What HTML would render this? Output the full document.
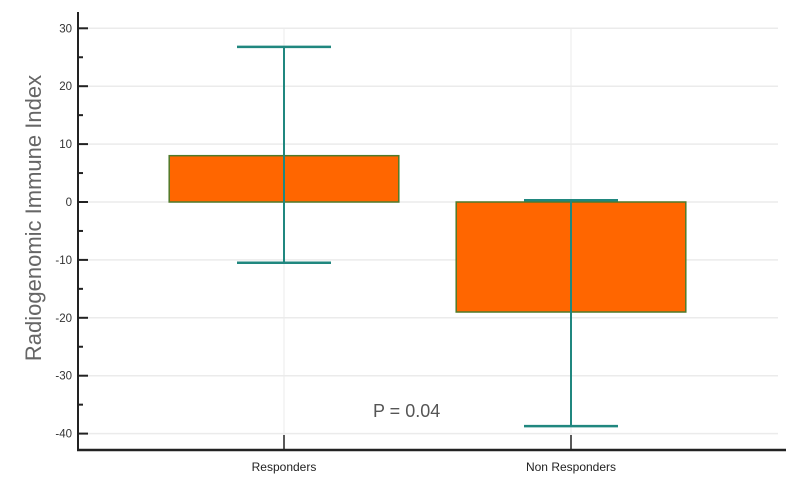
<!DOCTYPE html>
<html><head><meta charset="utf-8"><style>
body{margin:0;background:#fff;}
svg{display:block;font-family:"Liberation Sans",sans-serif;}
</style></head><body>
<svg width="786" height="487" id="chart"></svg>
<script>
const categories=["Responders","Non Responders"];
const boxLow=[0,-19];
const boxHigh=[8,0];
const whiskerLow=[-10.5,-38.7];
const whiskerHigh=[26.8,0.3];
const yTicks=[30,20,10,0,-10,-20,-30,-40];
const minorTicks=[25,15,5,-5,-15,-25,-35];
const pLabel="P = 0.04";

const NS="http://www.w3.org/2000/svg";
const svg=document.getElementById('chart');
const X0=78,X1=786,Y0=12,Y1=450;
function y(v){return 202-v*5.79;}
const bandStart=140.5,band=287;
function x(i){return bandStart+band*(i+0.5);}
function mk(t,a,p){const e=document.createElementNS(NS,t);for(const k in a)e.setAttribute(k,a[k]);(p||svg).appendChild(e);return e;}

// grid
yTicks.forEach(v=>{
 const g=mk('line',{x1:X0,x2:778,y1:y(v),y2:y(v),stroke:'#ebebeb','stroke-width':1.5});
 
 
});
categories.forEach((c,i)=>{
 const g=mk('line',{x1:x(i),x2:x(i),y1:28,y2:Y1,stroke:'#ebebeb','stroke-width':1});
 
 
});
// axes
const ya=mk('line',{x1:X0,x2:X0,y1:Y0,y2:Y1+1,stroke:'#222','stroke-width':2});


const xa=mk('line',{x1:X0-1,x2:X1,y1:Y1,y2:Y1,stroke:'#222','stroke-width':2.5});


yTicks.forEach(v=>{
 const t=mk('line',{x1:X0,x2:X0+10,y1:y(v),y2:y(v),stroke:'#222','stroke-width':2});
 
 
 const l=mk('text',{x:X0-6,y:y(v)+4,'text-anchor':'end','font-size':11.5,fill:'#333'});
 l.textContent=v;
 
 
});
minorTicks.forEach(v=>{
 const t=mk('line',{x1:X0,x2:X0+5,y1:y(v),y2:y(v),stroke:'#222','stroke-width':2});
 
 
});
categories.forEach((c,i)=>{
 const t=mk('line',{x1:x(i),x2:x(i),y1:Y1-15,y2:Y1,stroke:'#222','stroke-width':1.5});
 
 
 const l=mk('text',{x:x(i),y:471,'text-anchor':'middle','font-size':12,fill:'#222'});
 l.textContent=c;
 
 
});
// boxes
categories.forEach((c,i)=>{
 const w=band*0.8;
 const b=mk('rect',{x:x(i)-w/2,y:y(boxHigh[i]),width:w,height:y(boxLow[i])-y(boxHigh[i]),fill:'#ff6600',stroke:'#4f7a2a','stroke-width':1.5});
 
 
 const wl=mk('line',{x1:x(i),x2:x(i),y1:y(whiskerHigh[i]),y2:y(whiskerLow[i]),stroke:'#20877f','stroke-width':2});
 
 
 [whiskerHigh[i],whiskerLow[i]].forEach(v=>{
  const cap=mk('line',{x1:x(i)-47,x2:x(i)+47,y1:y(v),y2:y(v),stroke:'#20877f','stroke-width':2.5});
  
  
 });
});
const p=mk('text',{x:373,y:417,'font-size':18,fill:'#555'});
p.textContent=pLabel;


const yt=mk('text',{x:0,y:0,transform:'translate(41,218) rotate(-90)','text-anchor':'middle','font-size':22,fill:'#666'});
yt.textContent='Radiogenomic Immune Index';


</script>
</body></html>
